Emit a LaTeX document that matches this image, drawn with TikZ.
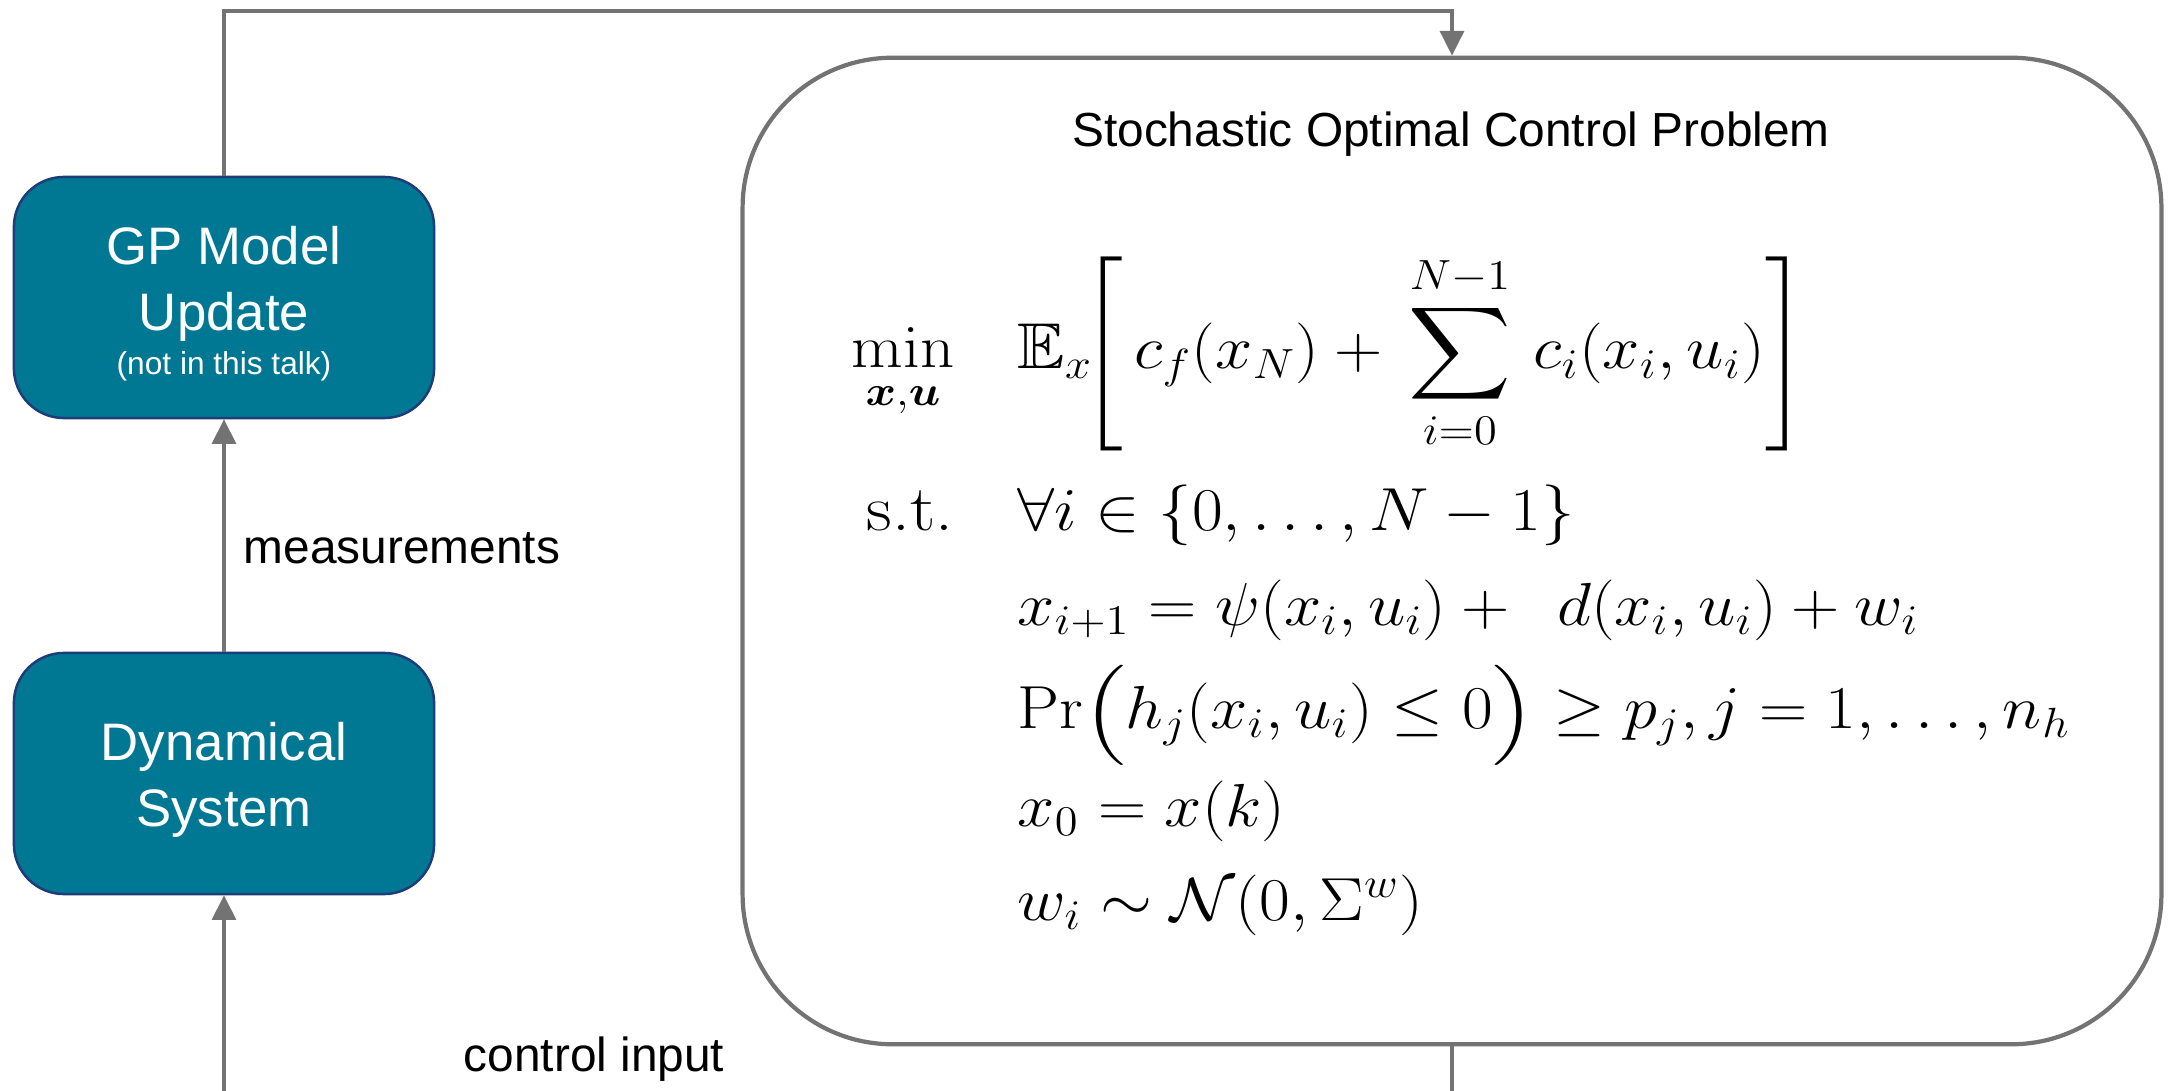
\documentclass[tikz,border=0pt]{standalone}
\usepackage{amsmath,amssymb}
\usepackage{graphicx}
\usepackage[no-math]{fontspec}
\newfontfamily\arial{Liberation Sans}
\usetikzlibrary{arrows.meta}
\definecolor{teal1}{RGB}{1,120,147}
\definecolor{tealborder}{RGB}{30,60,120}
\definecolor{conngray}{RGB}{115,115,115}
\newcommand{\wm}[1]{\scalebox{1.1}[1.0]{#1}}
\newcommand{\mpl}{\mathopen{\scalebox{1}[0.86]{$\Bigl($}}}
\newcommand{\mpr}{\mathclose{\scalebox{1}[0.86]{$\Bigr)$}}}
\tikzset{
  bluebox/.style={draw=tealborder, line width=0.7pt, fill=teal1, rounded corners=0.5cm,
    minimum width=4.2cm, minimum height=2.41cm, inner sep=0pt},
  boxtext/.style={text=white, align=center, inner sep=0pt},
  bigbox/.style={draw=conngray, line width=1.2pt, rounded corners=1.5cm,
    minimum width=14.18cm, minimum height=9.86cm, inner sep=0pt},
  conn/.style={draw=conngray, line width=0.95pt},
  arr/.style={conn, -{Triangle[width=6.8pt,length=7pt]}},
  lbl/.style={font=\arial\fontsize{13.6}{16}\selectfont, inner sep=0pt},
  mth/.style={font=\fontsize{18.4}{22}\selectfont, inner sep=0pt},
}
\begin{document}
\begin{tikzpicture}[x=0.01cm,y=-0.01cm]
\useasboundingbox (0,0) rectangle (2169,1091);
% boxes
\node[bluebox] (gp) at (224,297.5) {};
\node[boxtext, font=\arial\fontsize{15}{18.6}\selectfont] (gptxt) at (224,304)
  {GP Model\\Update\\[-6pt]{\fontsize{9}{11}\selectfont(not in this talk)}};
\node[bluebox] (ds) at (224,773.5) {};
\node[boxtext, font=\arial\fontsize{15}{18.6}\selectfont] (dstxt) at (224,780)
  {Dynamical\\System};
\node[bigbox] (socp) at (1452,551) {};
\node[lbl] (title) at (1451,134) {Stochastic Optimal Control Problem};
% labels
\node[lbl, anchor=west] (meas) at (243,548) {measurements};
\node[lbl, anchor=west] (ctrl) at (463,1059) {control input};
% connectors
\coordinate (tl) at (224,11);
\coordinate (tr) at (1452,11);
\coordinate (bl) at (224,1092.5);
\coordinate (br) at (1452,1092.5);
\draw[arr] (gp.north) -- (tl) -- (tr) -- (socp.north);
\draw[arr] (socp.south) -- (br) -- (bl) -- (ds.south);
\draw[arr] (ds.north) -- (gp.south);
% math
\node[mth, anchor=base] (minop) at (903,367) {\wm{$\displaystyle\min_{\boldsymbol{x},\boldsymbol{u}}$}};
\node[mth, anchor=base west] (obj) at (1017,369)
  {\wm{$\displaystyle\mathbb{E}_x\!\!\left[\,c_f(x_N)+\,\sum_{i=0}^{N-1}\,c_i(x_i,u_i)\right]$}};
\node[mth, anchor=base east] (st) at (954,530) {\wm{s.t.}};
\node[mth, anchor=base west] (c1) at (1017,530) {\wm{$\forall i\in\{0,\dots,N-1\}$}};
\node[mth, anchor=base west] (c2) at (1017,625) {\wm{$x_{i+1}=\psi(x_i,u_i)+\ \,d(x_i,u_i)+w_i$}};
\node[mth, anchor=base west] (c3) at (1017,728) {\wm{$\Pr\mpl h_j(x_i,u_i)\leq 0\mpr\geq p_j,j=1,\dots,n_h$}};
\node[mth, anchor=base west] (c4) at (1017,826) {\wm{$x_0=x(k)$}};
\node[mth, anchor=base west] (c5) at (1017,920) {\wm{$w_i\sim\mathcal{N}(0,\Sigma^w)$}};
\end{tikzpicture}
\end{document}
